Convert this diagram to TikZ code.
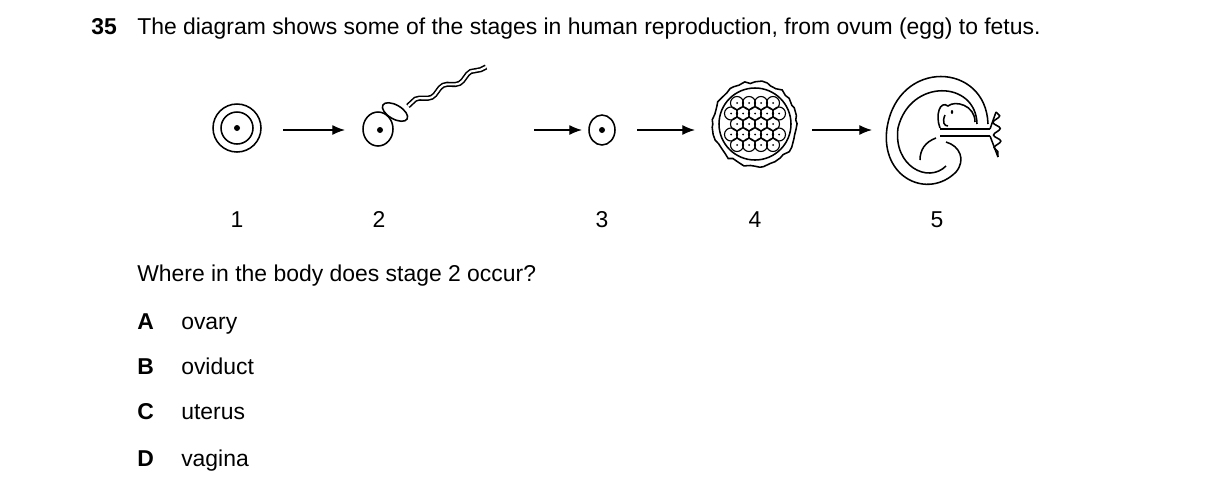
\documentclass[tikz,border=0pt]{standalone}
\usepackage{fontspec}
\setmainfont{Liberation Sans}
\usetikzlibrary{decorations.pathmorphing,arrows.meta}
\tikzset{
  stage/.style={line width=1.1pt},
  nextstage/.style={thick,-{Latex[length=9pt,width=7pt]}},
  lbl/.style={font=\fontsize{16.3}{18}\selectfont,anchor=base},
  txt/.style={font=\fontsize{16.3}{18}\selectfont,anchor=base west,inner sep=0pt}
}
\begin{document}
\begin{tikzpicture}[x=0.025cm,y=-0.025cm]
  \useasboundingbox (0,0) rectangle (1216,495);
  % Question
  \node[txt] (num) at (91,34) {\textbf{35}};
  \node[txt] (q) at (137,34) {The diagram shows some of the stages in human reproduction, from ovum (egg) to fetus.};

  % Stage 1: ovum
  \draw[stage] (237,128) circle (24) circle (16);
  \fill (237,128) circle (3);
  % Stage 2: fertilisation
  \draw[stage] (378,129) ellipse (15 and 17);
  \fill (380,130) circle (3);
  \draw[stage,double distance=1.5pt,decorate,decoration={snake,amplitude=2,segment length=22}] (408,106) -- (486,67);
  \draw[stage,fill=white,rotate around={-30:(395,112)}] (395,112) ellipse (14 and 7);
  % Stage 3: zygote
  \draw[stage] (602,130) ellipse (13 and 15);
  \fill (602,130) circle (3);
  % Stage 4: ball of cells
  \draw[stage,decorate,decoration={random steps,segment length=4,amplitude=1.2}] (755,124) circle (42);
  \draw[stage] (755,124) circle (36);
  \foreach \i in {-3,...,3}{
    \foreach \j in {-3,...,3}{
      \pgfmathsetmacro{\cx}{755+\i*12-mod(\j+3,2)*6}
      \pgfmathsetmacro{\cy}{124+\j*10.5}
      \pgfmathparse{(\cx-755)^2+(\cy-124)^2<800?1:0}
      \ifnum\pgfmathresult=1
        \draw[thick] (\cx,\cy) circle (6.5);
        \fill (\cx,\cy) circle (1);
      \fi
    }
  }
  % Stage 5: embryo
  \draw[stage] (988,124) .. controls (986,62) and (898,58) .. (887,128)
    .. controls (880,178) and (928,200) .. (956,172) .. controls (966,160) and (960,146) .. (946,142);
  \draw[stage] (977,124) .. controls (976,80) and (910,78) .. (898,128)
    .. controls (893,166) and (928,184) .. (946,166);
  \draw[stage] (940,128) .. controls (935,115) and (940,100) .. (948,106)
    .. controls (955,100) and (975,105) .. (975,122);
  \draw[stage] (945,115) .. controls (942,122) and (944,126) .. (948,126);
  \draw[stage] (936,138) .. controls (925,142) and (920,150) .. (920,160);
  \draw[stage] (940,129) -- (990,129) (940,136) -- (990,136);
  \draw[stage,decorate,decoration={snake,amplitude=2.5,segment length=9}] (996,112) -- (998,157);
  \draw[stage] (990,129) -- (996,112) (990,136) -- (998,157);
  \fill (952,112) ellipse (1.2 and 2);

  % Arrows between stages
  \draw[nextstage] (283,130) -- (345,130);
  \draw[nextstage] (534,130) -- (582,130);
  \draw[nextstage] (637,130) -- (695,130);
  \draw[nextstage] (812,130) -- (872,130);

  % Stage numbers
  \node[lbl] (n1) at (237,227) {1};
  \node[lbl] (n2) at (379,227) {2};
  \node[lbl] (n3) at (602,227) {3};
  \node[lbl] (n4) at (755,227) {4};
  \node[lbl] (n5) at (937,227) {5};

  % Options
  \node[txt] (ask) at (137,281) {Where in the body does stage 2 occur?};
  \foreach \l/\w/\y in {A/ovary/329,B/oviduct/374,C/uterus/419,D/vagina/466}{
    \node[txt] at (137,\y) {\textbf{\l}};
    \node[txt] at (181,\y) {\w};
  }
\end{tikzpicture}
\end{document}
